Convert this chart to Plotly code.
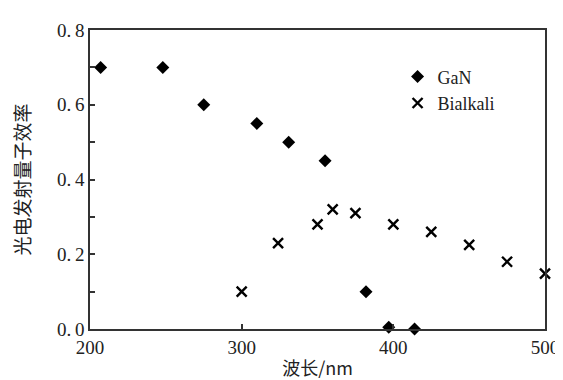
import plotly.graph_objects as go

gan_x = [207, 248, 275, 310, 331, 355, 382, 397, 414]
gan_y = [0.70, 0.70, 0.60, 0.55, 0.50, 0.45, 0.10, 0.005, 0.0]
bi_x = [300, 324, 350, 360, 375, 400, 425, 450, 475, 500]
bi_y = [0.10, 0.23, 0.28, 0.32, 0.31, 0.28, 0.26, 0.225, 0.18, 0.148]
x_ticks = [200, 300, 400, 500]
y_ticks = [0.0, 0.2, 0.4, 0.6, 0.8]
y_ticklabels = ["0.\u20090", "0.\u20092", "0.\u20094", "0.\u20096", "0.\u20098"]

fig = go.Figure()
fig.add_trace(go.Scatter(
    x=gan_x, y=gan_y, mode="markers", name="GaN",
    marker=dict(symbol="diamond", size=10, color="black"),
    cliponaxis=False,
))
fig.add_trace(go.Scatter(
    x=bi_x, y=bi_y, mode="markers", name="Bialkali",
    marker=dict(symbol="x-thin-open", size=10, color="black",
                line=dict(width=2.4, color="black")),
    cliponaxis=False,
))

axis_common = dict(
    showline=True, linecolor="#333", linewidth=1.5, mirror=True,
    ticks="inside", ticklen=5, tickwidth=1.5, tickcolor="#333",
    showgrid=False, zeroline=False,
    tickfont=dict(family="Liberation Serif", size=19, color="#222"),
)

fig.update_layout(
    width=563, height=380,
    margin=dict(l=82, r=15, t=19, b=54),
    paper_bgcolor="white", plot_bgcolor="white",
    showlegend=True,
    legend=dict(x=0.676, y=0.905, xanchor="left", yanchor="top",
                font=dict(family="Liberation Serif", size=18, color="#222"),
                bgcolor="rgba(0,0,0,0)", itemwidth=30, tracegroupgap=0),
    xaxis=dict(range=[200, 500], tickvals=x_ticks,
               title=dict(text="波长/nm", standoff=6,
                          font=dict(family="Noto Sans CJK SC", size=18, color="#222")),
               **axis_common),
    yaxis=dict(range=[0, 0.8], tickvals=y_ticks, ticktext=y_ticklabels,
               minor=dict(dtick=0.1, ticks="inside", ticklen=5, tickcolor="#333", tickwidth=1.5),
               title=dict(text="光电发射量子效率", standoff=22,
                          font=dict(family="Noto Sans CJK SC", size=19, color="#222")),
               **axis_common),
)

fig.write_html("out.html")
